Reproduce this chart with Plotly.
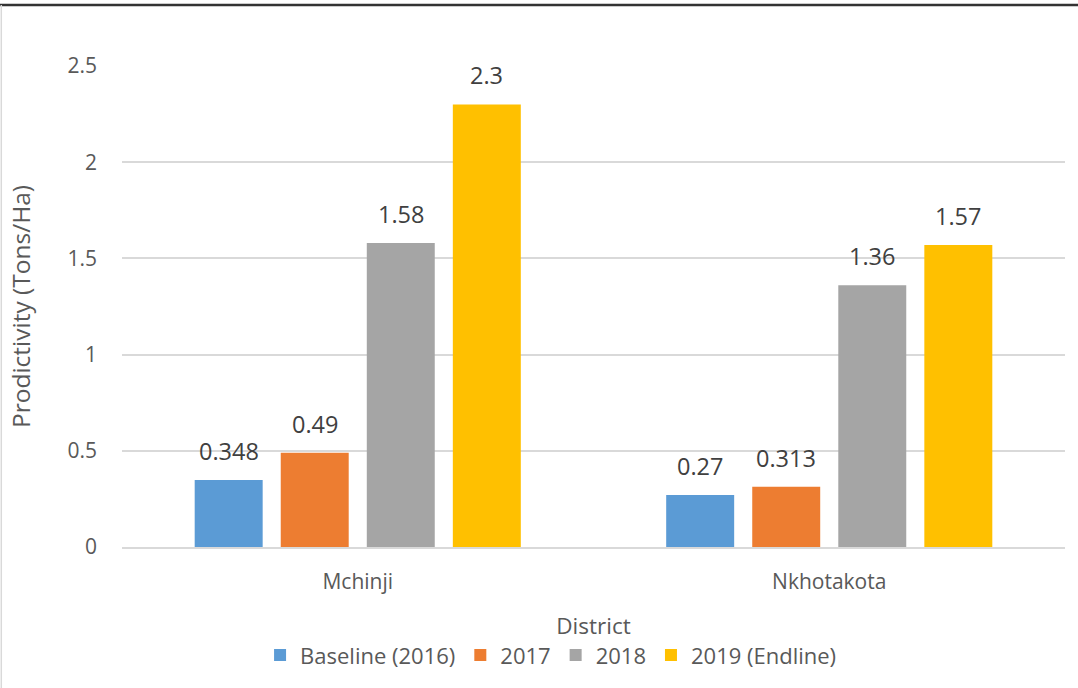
import plotly.graph_objects as go

districts = ["Mchinji", "Nkhotakota"]
series_names = ["Baseline (2016)", "2017", "2018", "2019 (Endline)"]
baseline_2016 = [0.348, 0.27]
y2017 = [0.49, 0.313]
y2018 = [1.58, 1.36]
endline_2019 = [2.3, 1.57]
colors = ["#5B9BD5", "#ED7D31", "#A5A5A5", "#FFC000"]

font_family = "Open Sans, DejaVu Sans, sans-serif"
bargap = 0.27
n_series = len(series_names)
slot = (1 - bargap) / n_series

fig = go.Figure()
annotations = []
for i, (name, vals, col) in enumerate(zip(series_names, [baseline_2016, y2017, y2018, endline_2019], colors)):
    fig.add_trace(go.Bar(
        name=name, x=districts, y=vals, marker=dict(color=col, line=dict(width=0)),
    ))
    # value labels above each bar, centred on the bar's slot in the group
    for j, v in enumerate(vals):
        annotations.append(dict(
            x=j + (i - (n_series - 1) / 2) * slot, y=v, xref="x", yref="y",
            text=str(v), showarrow=False, yanchor="bottom", yshift=11,
            font=dict(size=23.5, color="#404040", family=font_family),
        ))

fig.update_layout(
    width=1078, height=688,
    margin=dict(l=122, r=13, t=66, b=141),
    paper_bgcolor="white", plot_bgcolor="white",
    barmode="group", bargap=bargap, bargroupgap=0.21,
    font=dict(family=font_family, color="#595959", size=21),
    showlegend=True,
    legend=dict(orientation="h", x=0.455, xanchor="center", y=-0.225, yanchor="middle",
                font=dict(size=22, color="#595959"), itemwidth=30, traceorder="normal"),
    xaxis=dict(
        showgrid=False, showline=True, linecolor="#D9D9D9", linewidth=1.5,
        tickfont=dict(size=21, color="#595959"), ticks="", ticklabelstandoff=15,
        title=dict(text="District", font=dict(size=22.5, color="#595959"), standoff=24),
    ),
    yaxis=dict(
        range=[0, 2.5], dtick=0.5, showgrid=True, gridcolor="#D9D9D9", gridwidth=1.5,
        zeroline=False, showline=False, ticks="", ticklabelstandoff=24,
        tickfont=dict(size=21, color="#595959"),
        tickvals=[0, 0.5, 1, 1.5, 2, 2.5], ticktext=["0", "0.5", "1", "1.5", "2", "2.5"],
        title=dict(text="Prodictivity (Tons/Ha)", font=dict(size=24.5, color="#595959"), standoff=29),
    ),
    annotations=annotations,
    shapes=[
        dict(type="line", xref="paper", yref="paper", x0=-0.2, x1=1.02, y0=1.127, y1=1.127,
             line=dict(color="#333333", width=2.5)),
        dict(type="line", xref="paper", yref="paper", x0=-0.128, x1=-0.128, y0=-0.3, y1=1.127,
             line=dict(color="#D9D9D9", width=1.5)),
    ],
)

fig.write_html("out.html")
